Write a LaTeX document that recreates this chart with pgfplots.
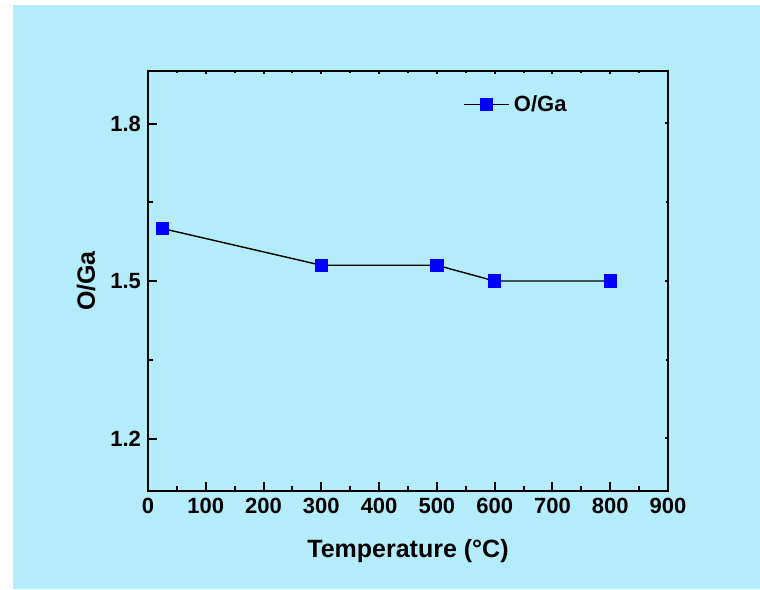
\documentclass[border=0pt]{standalone}
\usepackage{fontspec}
\setmainfont{Liberation Sans}
\usepackage{pgfplots}
\pgfplotsset{compat=1.18}
\definecolor{bg}{RGB}{180,236,251}
\begin{document}
\begin{tikzpicture}[x=1pt,y=1pt]
\path[use as bounding box] (0,0) rectangle (380,294.5);
\fill[bg] (6.5,0) rectangle (380,292);
\begin{axis}[at={(74pt,49pt)}, anchor=south west, scale only axis,
  width=260pt, height=210pt,
  xmin=0, xmax=900, ymin=1.1, ymax=1.9,
  xtick={0,100,...,900}, ytick={1.2,1.5,1.8},
  minor x tick num=1, minor y tick num=1,
  tick align=inside, xtick pos=bottom, ytick pos=left,
  major tick length=4.5pt, minor tick length=2.5pt,
  axis line style={line width=1.4pt},
  every tick/.style={line width=1pt, black},
  /pgf/number format/assume math mode=true,
  tick label style={font=\bfseries\fontsize{11}{13}\selectfont},
  yticklabel style={/pgf/number format/.cd, fixed, fixed zerofill, precision=1},
  xticklabel style={/pgf/number format/.cd, fixed, 1000 sep={}},
  xlabel={Temperature (°C)},
  ylabel={O/Ga},
  xlabel style={font=\bfseries\fontsize{12.5}{14}\selectfont, at={(axis description cs:0.5,-0.143)}, anchor=center},
  ylabel style={font=\bfseries\fontsize{12.5}{14}\selectfont, at={(axis description cs:-0.119,0.5)}, anchor=center},
  legend style={draw=none, fill=none, at={(0.605,0.92)}, anchor=west,
    font=\bfseries\fontsize{11}{13}\selectfont, inner sep=0pt},
  legend image code/.code={\draw[mark repeat=2,mark phase=2] plot coordinates {(0cm,0cm) (0.4cm,0cm) (0.8cm,0cm)};},
]
\addplot[black, line width=0.7pt, mark=square*, mark size=3pt,
  mark options={fill=blue, draw=blue, solid}] coordinates {
  (25,1.60) (300,1.53) (500,1.53) (600,1.50) (800,1.50)
};
\addlegendentry{O/Ga}
\end{axis}
\begin{axis}[at={(74pt,49pt)}, anchor=south west, scale only axis,
  width=260pt, height=210pt,
  xmin=0, xmax=900, ymin=1.1, ymax=1.9,
  xtick={0,100,...,900}, ytick={1.2,1.5,1.8},
  minor x tick num=1, minor y tick num=1,
  tick align=inside, xtick pos=top, ytick pos=right,
  major tick length=1.5pt, minor tick length=1pt,
  axis line style={line width=1.4pt},
  every tick/.style={line width=1pt, black},
  xticklabels={}, yticklabels={},
]
\end{axis}
\end{tikzpicture}
\end{document}
